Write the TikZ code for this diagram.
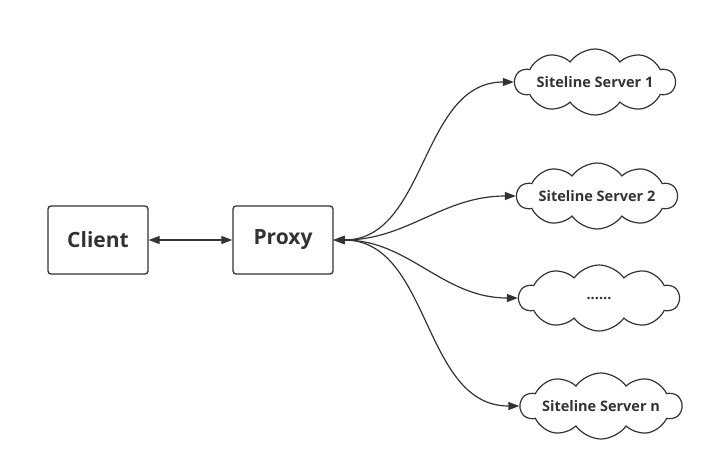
\documentclass[tikz,border=0pt]{standalone}
\usepackage{fontspec}
\setmainfont{Open Sans}
\usetikzlibrary{shapes.symbols,arrows.meta}
\definecolor{ink}{HTML}{333333}
\begin{document}
\begin{tikzpicture}[x=1pt,y=-1pt,
  box/.style={draw=ink,line width=1.3pt,rounded corners=3pt,minimum width=100pt,minimum height=68pt,font=\fontsize{21}{24}\selectfont\bfseries,text=ink},
  cloudy/.style={cloud,cloud puffs=10,cloud puff arc=110,cloud ignores aspect,draw=ink,line width=1.2pt,minimum width=160pt,minimum height=66pt,inner sep=0pt,font=\fontsize{14.5}{17}\selectfont\bfseries,text=ink},
  link/.style={draw=ink,line width=1.2pt,{Triangle[length=11pt,width=8pt]}-{Triangle[length=11pt,width=8pt]}}]
\useasboundingbox (0,0) rectangle (717,472);
\node[box] (client) at (98,240) {Client};
\node[box] (proxy) at (283,240) {Proxy};
\node[cloudy] (s1) at (595,82) {Siteline Server 1};
\node[cloudy] (s2) at (597,196) {Siteline Server 2};
\node[cloudy] (s3) at (599,298) {......};
\node[cloudy] (sn) at (601,406) {Siteline Server n};
\draw[link] (client.east) -- (proxy.west);
\foreach \s in {s1,s2,s3,sn}{
  \draw[link] (proxy.east) to[out=0,in=180] (\s.west);
}
\end{tikzpicture}
\end{document}
